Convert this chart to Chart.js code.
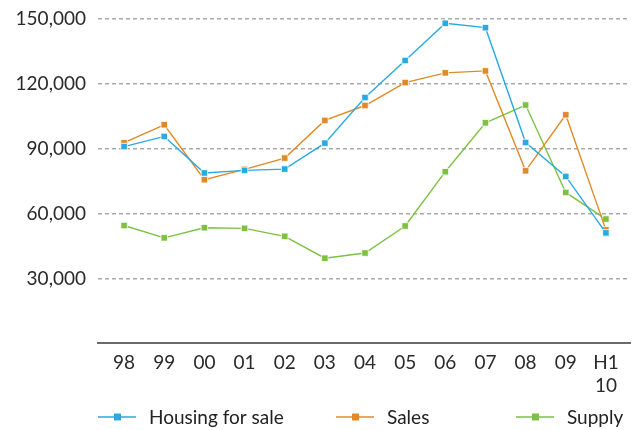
<!DOCTYPE html>
<html>
<head>
<meta charset="utf-8">
<script src="https://cdn.jsdelivr.net/npm/chart.js@4/dist/chart.umd.min.js"></script>
<style>
  html, body { margin: 0; padding: 0; background: #fff; }
  #wrap { width: 640px; height: 430px; position: relative; }
</style>
</head>
<body>
<div id="wrap"><canvas id="c"></canvas></div>
<script>
// Years on the horizontal axis (last one is the first half of 2010)
const categories = ['98', '99', '00', '01', '02', '03', '04', '05', '06', '07', '08', '09', ['H1', '10']];

// Housing units
const housingForSale = [91000, 95700, 78800, 80000, 80600, 92600, 113700, 130800, 148000, 146000, 92900, 77200, 51100];
const sales          = [92800, 101100, 75700, 80500, 85700, 103100, 110000, 120600, 125100, 126000, 79800, 105700, 52500];
const supply         = [54500, 48800, 53500, 53200, 49500, 39400, 41800, 54300, 79400, 102000, 110200, 69800, 57500];

const seriesNames = ['Housing for sale', 'Sales', 'Supply'];
const yTicks = [30000, 60000, 90000, 120000, 150000];

const colors = ['#29a9e1', '#e08a27', '#7cc142'];
const FONT = 'Lato, "Open Sans", sans-serif';

function toPoints(arr) { return arr.map((v, i) => ({ x: i, y: v })); }

function ds(label, values, color) {
  return {
    label,
    data: toPoints(values),
    borderColor: color,
    backgroundColor: color,
    borderWidth: 1.4,
    pointStyle: 'rect',
    pointRadius: 4.6,
    pointBorderColor: '#ffffff',
    pointBorderWidth: 0.8,
    pointBackgroundColor: color,
    tension: 0,
    fill: false
  };
}

// Legend drawn on the canvas: line + square marker, then label
const lineLegend = {
  id: 'lineLegend',
  afterDraw(chart) {
    const ctx = chart.ctx;
    const xs = [98, 336, 516];
    const y = 417;
    ctx.save();
    chart.data.datasets.forEach((d, i) => {
      const x = xs[i];
      ctx.strokeStyle = d.borderColor;
      ctx.lineWidth = 1.6;
      ctx.beginPath();
      ctx.moveTo(x, y);
      ctx.lineTo(x + 38, y);
      ctx.stroke();
      ctx.fillStyle = d.borderColor;
      ctx.fillRect(x + 16, y - 3.5, 7, 7);
      ctx.fillStyle = '#222';
      ctx.font = '19px ' + FONT;
      ctx.textBaseline = 'middle';
      ctx.textAlign = 'left';
      ctx.fillText(d.label, x + 51, y + 1);
    });
    ctx.restore();
  }
};

new Chart(document.getElementById('c'), {
  type: 'line',
  data: {
    datasets: [
      ds(seriesNames[0], housingForSale, colors[0]),
      ds(seriesNames[1], sales, colors[1]),
      ds(seriesNames[2], supply, colors[2])
    ]
  },
  options: {
    responsive: true,
    maintainAspectRatio: false,
    animation: false,
    layout: { padding: { top: 19, right: 10, bottom: 25, left: 0 } },
    plugins: { legend: { display: false }, tooltip: { enabled: false } },
    scales: {
      x: {
        type: 'linear',
        min: -0.65,
        max: categories.length - 1 + 0.6,
        afterBuildTicks(scale) {
          scale.ticks = categories.map((_, i) => ({ value: i }));
        },
        ticks: {
          autoSkip: false,
          maxRotation: 0,
          padding: 8,
          color: '#2a2a2a',
          font: { family: FONT, size: 19, lineHeight: 1.2 },
          callback: (v) => categories[v]
        },
        grid: { display: false, drawTicks: false },
        border: { display: true, color: '#6b6b6b', width: 2 }
      },
      y: {
        min: 0,
        max: 150000,
        afterBuildTicks(scale) {
          scale.ticks = [0].concat(yTicks).map(v => ({ value: v }));
        },
        afterFit(scale) {
          scale.width = 98;
          scale.paddingTop = 0;
          scale.paddingBottom = 0;
        },
        ticks: {
          padding: 12,
          color: '#2a2a2a',
          font: { family: FONT, size: 19 },
          callback: (v) => v === 0 ? '' : v.toLocaleString('en-US')
        },
        grid: {
          drawTicks: false,
          color: (c) => c.tick && c.tick.value === 0 ? 'rgba(0,0,0,0)' : '#a9a9a9',
          lineWidth: 1.6
        },
        border: { display: false, dash: [4, 3] }
      }
    }
  },
  plugins: [lineLegend]
});
</script>
</body>
</html>
